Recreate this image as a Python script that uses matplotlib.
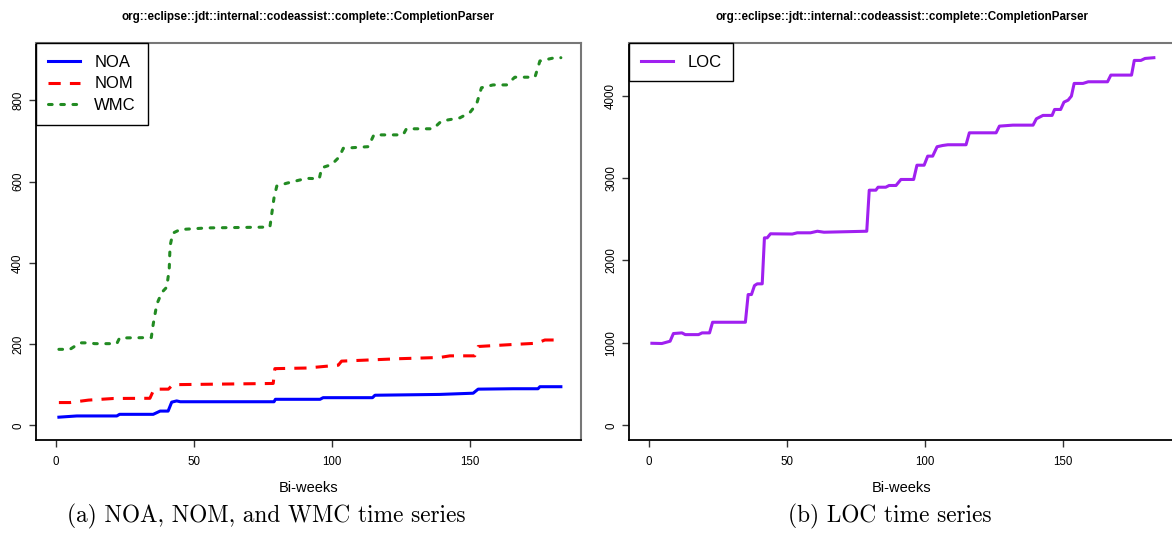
import numpy as np
import matplotlib
matplotlib.use("Agg")
import matplotlib.pyplot as plt

plt.rcParams['font.family'] = ['Liberation Sans', 'DejaVu Sans']

CLASS_NAME = "org::eclipse::jdt::internal::codeassist::complete::CompletionParser"

# metric vertices (bi-week, value)
noa_x = [1, 7.5, 22, 23, 35.2, 37.7, 40.6, 41.9, 43.7, 45, 79, 79.5, 95.7, 96.8,
         114.7, 115.6, 139, 151.2, 153, 165.7, 174.7, 175.4, 183]
noa_y = [20, 23, 23, 27, 27, 35, 35, 57, 60, 58, 58, 64, 64, 68,
         68, 74, 76, 79, 89, 90, 90, 95, 95]

nom_x = [1, 5, 11.7, 20.8, 34, 35.5, 40.7, 42.3, 78.7, 79.3, 90.8, 102.3, 103.5,
         124.6, 139.1, 142.8, 151.8, 153, 165.7, 174.2, 177.2, 183]
nom_y = [56, 56, 62, 66, 66.5, 89, 89, 100, 103, 139.5, 141, 148, 158,
         164, 167, 171, 171, 194, 199, 202, 210, 210]

wmc_x = [1, 5, 8.7, 12, 14, 22, 23, 34.5, 35.2, 36.5, 38.3, 40.1, 41, 41.3, 42.3,
         45, 55, 77.5, 79, 80, 83.6, 90.8, 95.4, 96.3, 99.9, 102.7, 104.1, 113.2,
         115.2, 125.8, 127, 136.7, 139.7, 146.4, 150, 152.4, 154.2, 158.4, 163.3,
         166.3, 173.6, 175.4, 180.8, 183]
wmc_y = [187, 187, 203, 203, 201, 201, 215, 216, 249, 298, 327, 340, 384, 441, 473,
         482, 486, 488, 560, 589, 596, 608, 607, 634, 642, 661, 682, 686,
         715, 715, 730, 730, 749, 757, 770, 790, 831, 838, 838,
         857, 857, 897, 905, 905]

loc_x = [1, 4.6, 7.6, 8.8, 11.9, 13.1, 17.9, 19.2, 21.9, 23, 34.9, 35.9, 37.1, 38.2,
         39.2, 41, 41.8, 42.8, 44, 51.9, 53.7, 58.5, 61, 63.4, 78.9, 79.8, 82.2, 83,
         85.8, 87, 89.5, 91.3, 95.9, 97.1, 99.7, 101, 102.8, 104.4, 106.4, 108.3,
         114.9, 116.1, 125.8, 127, 131.9, 139.2, 140.4, 142.8, 146.1, 147, 149.2,
         150.4, 151.9, 153.1, 154.1, 157.3, 159.2, 166.2, 167.4, 174.9, 175.9,
         178.3, 179.8, 183]
loc_y = [995, 992, 1020, 1113, 1121, 1100, 1100, 1121, 1121, 1250, 1250, 1586, 1586, 1695,
         1716, 1716, 2274, 2274, 2323, 2320, 2335, 2335, 2354, 2342, 2354, 2852, 2852, 2888,
         2888, 2909, 2909, 2982, 2982, 3155, 3155, 3265, 3265, 3379, 3394, 3403,
         3403, 3548, 3548, 3629, 3641, 3641, 3718, 3759, 3759, 3831, 3831,
         3920, 3944, 3993, 4147, 4147, 4167, 4167, 4248, 4248, 4426,
         4426, 4450, 4459]

x_ticks = [0, 50, 100, 150]
left_yticks = [0, 200, 400, 600, 800]
right_yticks = [0, 1000, 2000, 3000, 4000]


def r_style(ax, yticks, ymax):
    # R-like frame: axis range padded by 4%, outward ticks, rotated y labels
    ax.set_xlim(-7.3, 190.3)
    ax.set_ylim(-0.04 * ymax, 1.04 * ymax)
    ax.set_xticks(x_ticks)
    ax.set_yticks(yticks)
    ax.tick_params(direction='out', length=5, width=1, labelsize=8.3, color='#333333')
    ax.tick_params(axis='x', pad=6.5)
    ax.tick_params(axis='y', labelrotation=90, pad=3.5)
    for lab in ax.get_yticklabels():
        lab.set_va('center')
    for side in ['left', 'bottom']:
        ax.spines[side].set_color('black')
        ax.spines[side].set_linewidth(1.3)
    for side in ['top', 'right']:
        ax.spines[side].set_color('#777777')
        ax.spines[side].set_linewidth(1.5)
    ax.set_xlabel('Bi-weeks', fontsize=10.5, labelpad=9.5)
    ax.set_title(CLASS_NAME, fontsize=8.4, fontweight='bold', pad=16.5)


fig = plt.figure(figsize=(11.72, 5.36), dpi=100)
ax1 = fig.add_axes([36 / 1172, 1 - 440 / 536, 545 / 1172, 397 / 536])
ax2 = fig.add_axes([629 / 1172, 1 - 440 / 536, 545 / 1172, 397 / 536])

lw = 2.2
ax1.plot(noa_x, noa_y, color='#0000FF', lw=lw, label='NOA')
ax1.plot(nom_x, nom_y, color='#FF0000', lw=lw, linestyle=(0, (4, 3)), label='NOM')
ax1.plot(wmc_x, wmc_y, color='#228B22', lw=lw, linestyle=(0, (1.2, 2.8)),
         dash_capstyle='round', label='WMC')
r_style(ax1, left_yticks, max(wmc_y))

ax2.plot(loc_x, loc_y, color='#A020F0', lw=lw, label='LOC')
r_style(ax2, right_yticks, max(loc_y))

for ax in (ax1, ax2):
    leg = ax.legend(loc='upper left', fontsize=12, fancybox=False, framealpha=1,
                    edgecolor='black', borderaxespad=0, handlelength=1.95,
                    handletextpad=0.85, borderpad=0.7, labelspacing=0.4)
    leg.get_frame().set_linewidth(1.0)

fig.text(266 / 1172, 1 - 516 / 536, '(a) NOA, NOM, and WMC time series',
         family='cmr10', fontsize=16.8, ha='center', va='center')
fig.text(890 / 1172, 1 - 516 / 536, '(b) LOC time series',
         family='cmr10', fontsize=16.8, ha='center', va='center')

fig.savefig('out.png', dpi=100)
